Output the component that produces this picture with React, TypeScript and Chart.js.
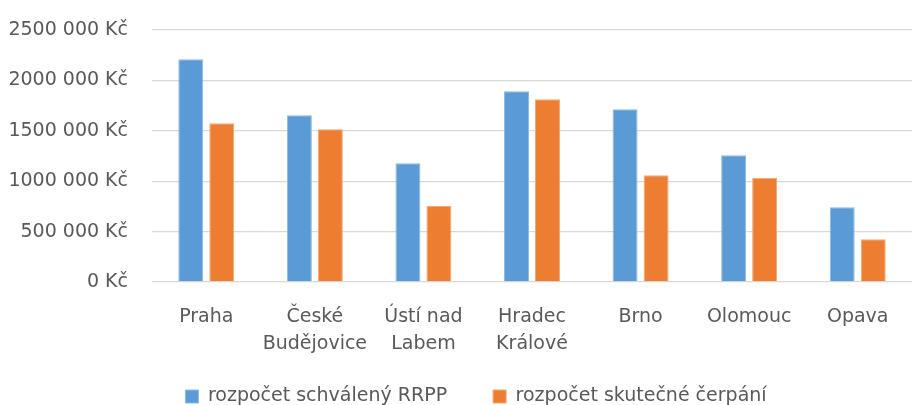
import React, { useEffect, useRef } from "react";
import { Chart, registerables } from "chart.js";

Chart.register(...registerables);

const categories: (string | string[])[] = [
  "Praha",
  ["České", "Budějovice"],
  ["Ústí nad", "Labem"],
  ["Hradec", "Králové"],
  "Brno",
  "Olomouc",
  "Opava",
];

const approvedLabel = "rozpočet schválený RRPP";
const spentLabel = "rozpočet skutečné čerpání";

const approvedValues = [2210000, 1655000, 1177000, 1892000, 1713000, 1257000, 741000];
const spentValues = [1574000, 1515000, 757000, 1812000, 1058000, 1035000, 423000];

const yTickValues = [0, 500000, 1000000, 1500000, 2000000, 2500000];
const yTickLabels = ["0 Kč", "500 000 Kč", "1000 000 Kč", "1500 000 Kč", "2000 000 Kč", "2500 000 Kč"];

const FONT = "'DejaVu Sans', sans-serif";
const TEXT = "#595959";
const FS = 19;

const legendPlace = {
  id: "legendPlace",
  afterLayout(chart: any) {
    const lg = chart.legend;
    if (!lg) return;
    const pad = lg.options.labels.padding;
    const textCenter = 396.5;
    lg.top = textCenter - pad - FS / 2;
    lg.bottom = chart.height + 30;
    lg.left += 20;
    lg.right += 20;
  },
};

export default function App() {
  const ref = useRef<HTMLCanvasElement | null>(null);

  useEffect(() => {
    document.body.style.margin = "0";
    const canvas = ref.current;
    if (!canvas) return;
    const chart = new Chart(canvas, {
      type: "bar",
      data: {
        labels: categories,
        datasets: [
          {
            label: approvedLabel,
            data: approvedValues,
            backgroundColor: "#5B9BD5",
            borderColor: "#8DB9E3",
            borderWidth: 1,
            barPercentage: 0.806,
            categoryPercentage: 0.571,
          },
          {
            label: spentLabel,
            data: spentValues,
            backgroundColor: "#ED7D31",
            borderColor: "#F3A774",
            borderWidth: 1,
            barPercentage: 0.806,
            categoryPercentage: 0.571,
          },
        ],
      },
      plugins: [legendPlace],
      options: {
        animation: false,
        responsive: false,
        maintainAspectRatio: false,
        layout: { padding: { left: 0, right: 0, top: 30, bottom: 0 } },
        plugins: {
          tooltip: { enabled: false },
          legend: {
            position: "bottom",
            maxHeight: 43,
            labels: {
              boxWidth: 13,
              boxHeight: 13,
              padding: 46,
              color: TEXT,
              font: { family: FONT, size: FS },
            },
          },
        },
        scales: {
          x: {
            afterFit: (scale: any) => {
              scale.height = 80;
            },
            grid: { display: false, drawTicks: false },
            border: { display: false },
            ticks: {
              color: TEXT,
              font: { family: FONT, size: FS, lineHeight: 1.4 },
              padding: 22,
              maxRotation: 0,
              autoSkip: false,
            },
          },
          y: {
            min: 0,
            max: 2500000,
            afterFit: (scale: any) => {
              scale.width = 152;
              scale.paddingTop = 0;
              scale.paddingBottom = 0;
            },
            afterBuildTicks: (scale: any) => {
              scale.ticks = yTickValues.map((v) => ({ value: v }));
            },
            grid: { color: "#D9D9D9", lineWidth: 1.3, drawTicks: false },
            border: { display: false },
            ticks: {
              color: TEXT,
              font: { family: FONT, size: FS },
              padding: 24,
              callback: (value: any) => {
                const i = yTickValues.indexOf(Number(value));
                return i >= 0 ? yTickLabels[i] : "";
              },
            },
          },
        },
      },
    });
    return () => chart.destroy();
  }, []);

  return (
    <div style={{ width: 912, height: 405 }}>
      <canvas ref={ref} width={912} height={405} style={{ display: "block" }} />
    </div>
  );
}
